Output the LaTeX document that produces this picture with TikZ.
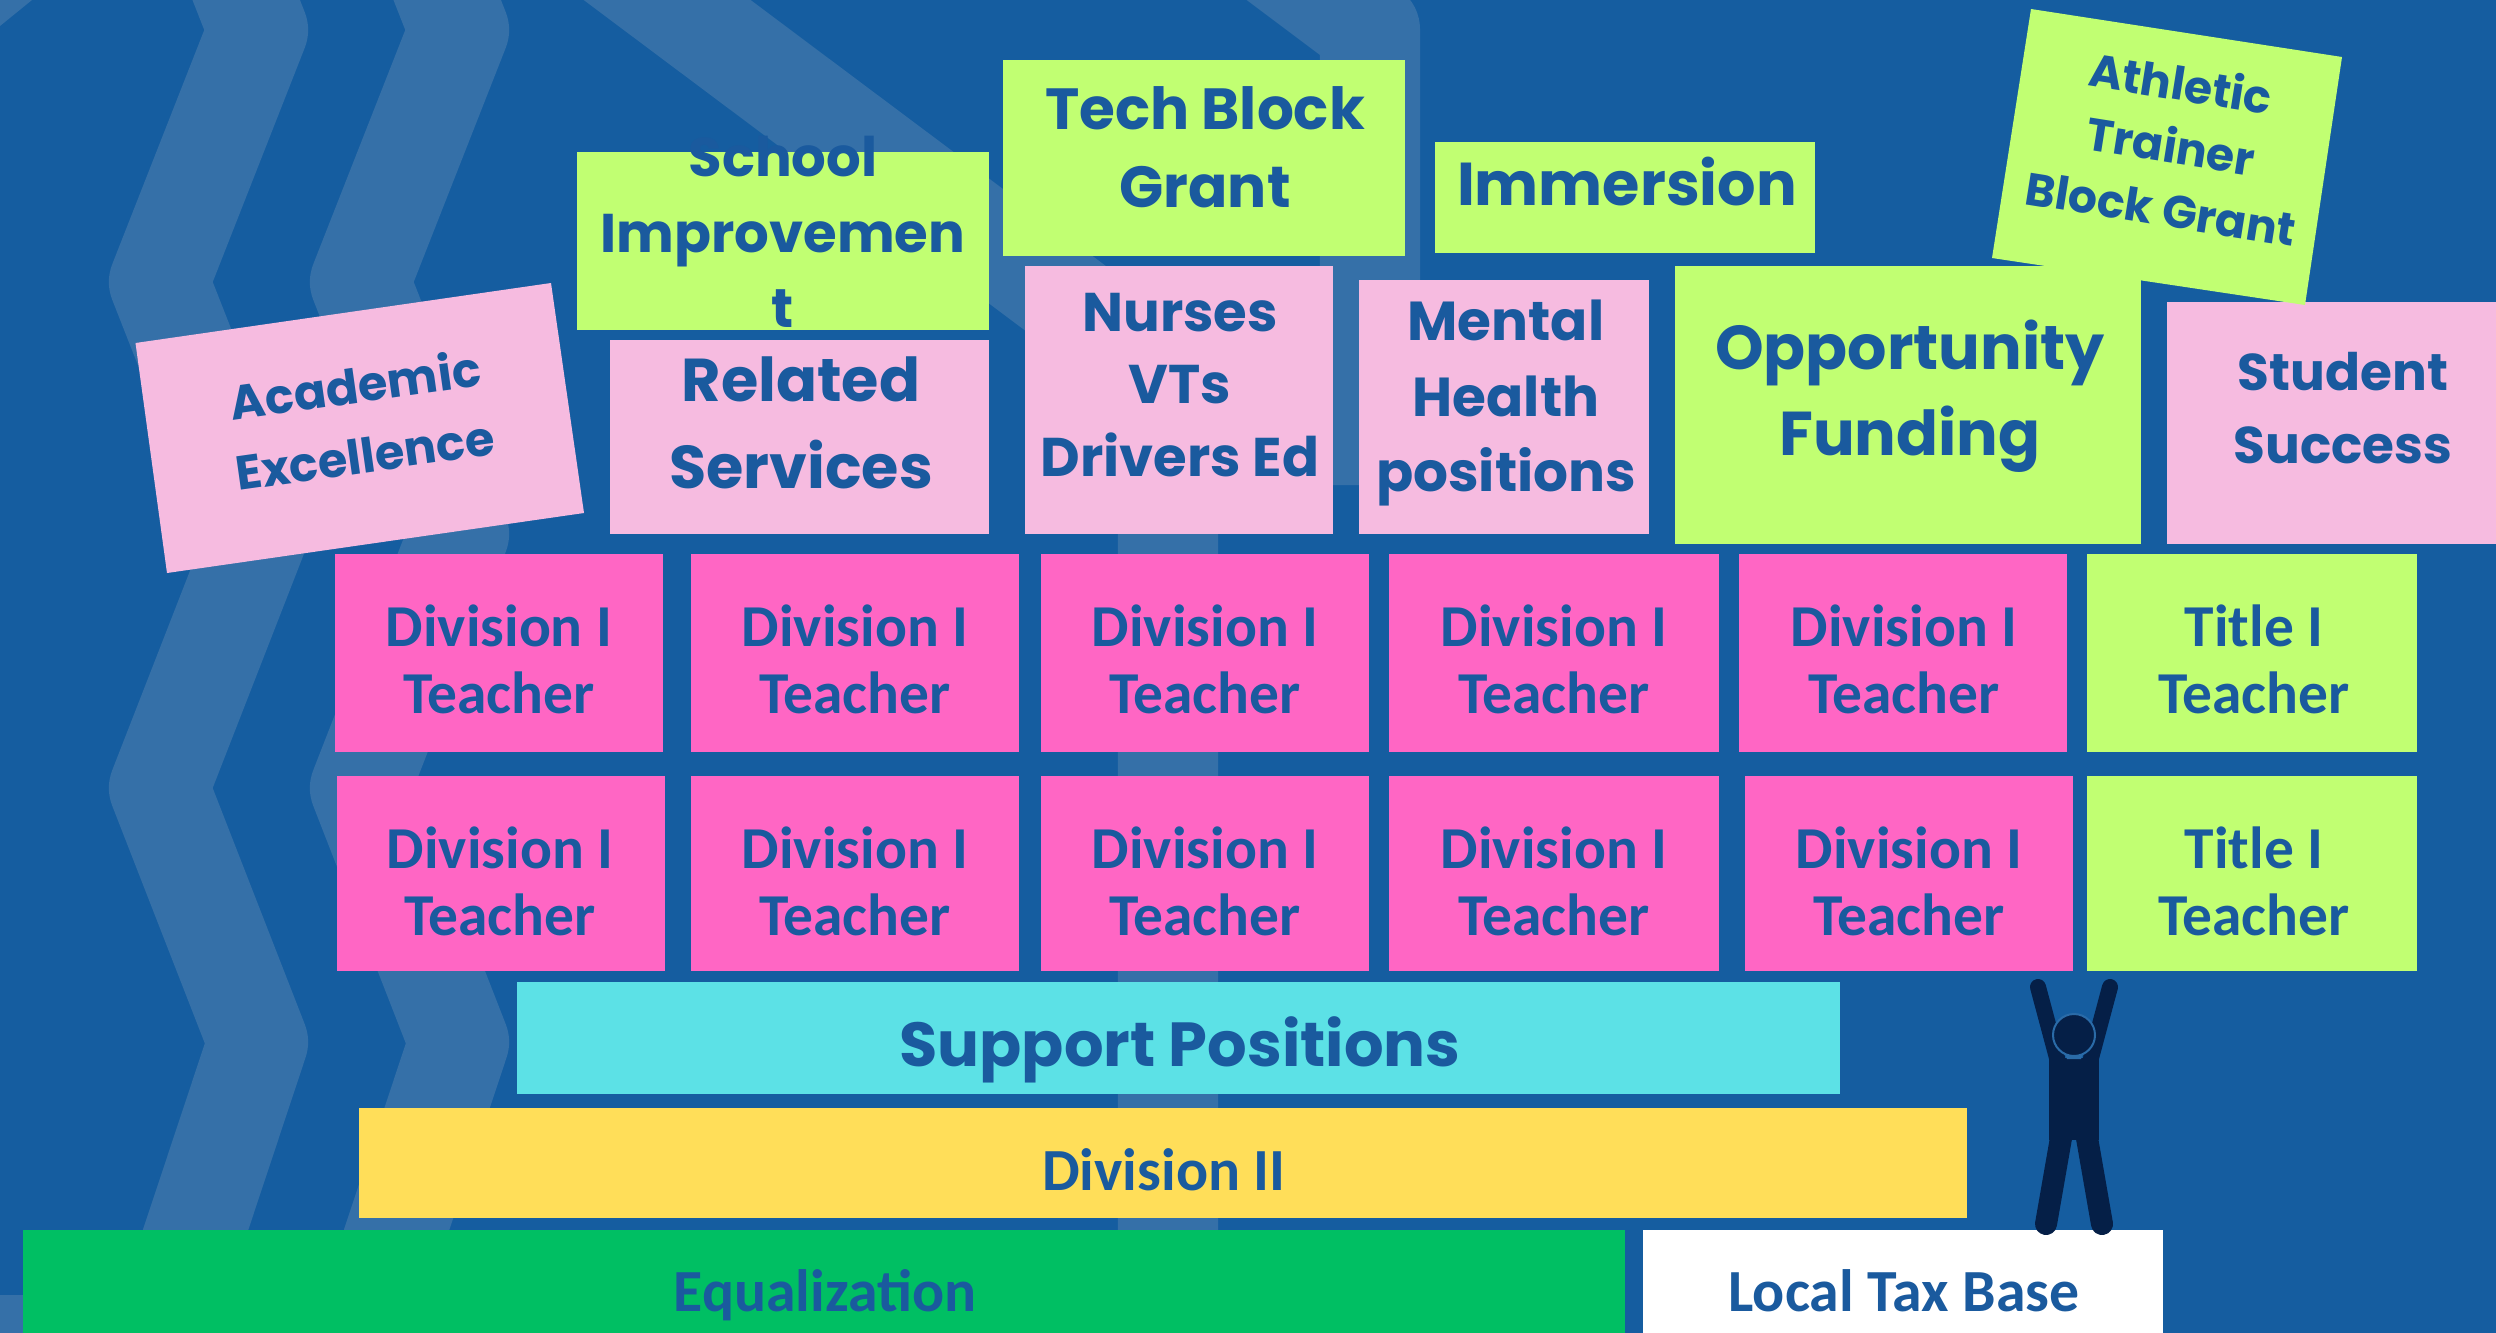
\documentclass[tikz,border=0pt]{standalone}
\usepackage{fontspec}
\newfontfamily\montfont{Poppins}
\newfontfamily\calfont{Carlito}
\definecolor{bgblue}{HTML}{155DA0}
\definecolor{bandblue}{HTML}{3570A8}
\definecolor{inkblue}{HTML}{1A5A9E}
\definecolor{palepink}{HTML}{F6BBE0}
\definecolor{hotpink}{HTML}{FF66C4}
\definecolor{lime}{HTML}{C1FF72}
\definecolor{aqua}{HTML}{5CE1E6}
\definecolor{sun}{HTML}{FFDE59}
\definecolor{leaf}{HTML}{00BF63}
\definecolor{navy}{HTML}{051F47}
\definecolor{halo}{HTML}{2A6BA8}
\tikzset{
  mont/.style 2 args={text=inkblue,align=center,inner sep=0pt,font=\montfont\bfseries\fontsize{#1}{#2}\selectfont},
  cal/.style 2 args={text=inkblue,align=center,inner sep=0pt,font=\calfont\bfseries\fontsize{#1}{#2}\selectfont},
  teacher/.style={cal={16.9}{19}},
  band/.style={draw=bandblue,line width=1cm,line join=round}
}
\begin{document}
\begin{tikzpicture}[x=0.01cm,y=-0.01cm]
\useasboundingbox (0,0) rectangle (2496,1333);
\clip (0,0) rectangle (2496,1333);
\fill[bgblue] (0,0) rectangle (2496,1333);

\draw[band] (159,-222) -- (258,30) -- (159,282) -- (258,534) -- (159,788) -- (258,1042) -- (159,1340);
\draw[band] (360,-222) -- (459,30) -- (360,282) -- (459,534) -- (360,788) -- (459,1042) -- (360,1340);
\draw[band] (587,-60) -- (1168,375) -- (1168,1340);
\draw[band] (1170,-120) -- (1370,30) -- (1370,485);
\fill[bandblue] (0,0) -- (32,0) -- (0,26) -- cycle;
\fill[bandblue] (0,1295) rectangle (23,1333);

\fill[palepink] (135.5,343) -- (551,283) -- (584,513) -- (167,573) -- cycle;
\node[mont={13.6}{19},rotate=8,text width=3cm] (academic) at (360,419) {Academic\\[0.95pt]Excellence};

\fill[lime] (577,152) rectangle (989,330);
\node[mont={15.5}{21.5}] (school) at (783,232) {School\\Improvemen\\t};

\fill[lime] (1003,60) rectangle (1405,256);
\node[mont={16.5}{22.2}] (tech) at (1205,147) {Tech Block\\Grant};

\fill[lime] (1435,142) rectangle (1815,253);
\node[mont={17.2}{22}] (immersion) at (1627,182) {Immersion};

\fill[palepink] (610,340) rectangle (989,534);
\node[mont={17.2}{24.7}] (related) at (801,423) {Related\\Services};

\fill[palepink] (1025,266) rectangle (1333,534);
\node[mont={15.5}{20.6}] (nurses) at (1180,385) {Nurses\\VTs\\Drivers Ed};

\fill[palepink] (1359,280) rectangle (1649,534);
\node[mont={15.6}{21.6}] (mental) at (1506,403) {Mental\\Health\\positions};

\fill[lime] (1675,266) rectangle (2141,544);
\node[mont={17.6}{24.5}] (opportunity) at (1910,396) {Opportunity\\Funding};

\fill[palepink] (2167,302) rectangle (2496,544);
\node[mont={14.7}{20.8}] (student) at (2343,408) {Student\\Success};

\fill[lime] (2031,9) -- (2342,57) -- (2305,305) -- (1992,258) -- cycle;
\node[mont={13}{18},rotate=-9] (athletic) at (2171,145) {Athletic\\Trainer\\Block Grant};

\fill[hotpink] (335,554) rectangle (663,752);
\node[teacher] (div1a) at (499,659) {Division I\\Teacher};
\fill[hotpink] (691,554) rectangle (1019,752);
\node[teacher] (div1b) at (855,659) {Division I\\Teacher};
\fill[hotpink] (1041,554) rectangle (1369,752);
\node[teacher] (div1c) at (1205,659) {Division I\\Teacher};
\fill[hotpink] (1389,554) rectangle (1719,752);
\node[teacher] (div1d) at (1554,659) {Division I\\Teacher};
\fill[hotpink] (1739,554) rectangle (2067,752);
\node[teacher] (div1e) at (1904,659) {Division I\\Teacher};
\fill[lime] (2087,554) rectangle (2417,752);
\node[teacher] (title1) at (2254,659) {Title I\\Teacher};

\fill[hotpink] (337,776) rectangle (665,971);
\node[teacher] (div2a) at (500,881) {Division I\\Teacher};
\fill[hotpink] (691,776) rectangle (1019,971);
\node[teacher] (div2b) at (855,881) {Division I\\Teacher};
\fill[hotpink] (1041,776) rectangle (1369,971);
\node[teacher] (div2c) at (1205,881) {Division I\\Teacher};
\fill[hotpink] (1389,776) rectangle (1719,971);
\node[teacher] (div2d) at (1554,881) {Division I\\Teacher};
\fill[hotpink] (1745,776) rectangle (2073,971);
\node[teacher] (div2e) at (1909,881) {Division I\\Teacher};
\fill[lime] (2087,776) rectangle (2417,971);
\node[teacher] (title2) at (2254,881) {Title I\\Teacher};

\fill[aqua] (517,982) rectangle (1840,1094);
\node[mont={17.7}{22}] (support) at (1180,1050) {Support Positions};

\fill[sun] (359,1108) rectangle (1967,1218);
\node[cal={17}{19}] (division2) at (1164,1170) {Division II};

\fill[leaf] (23,1230) rectangle (1625,1333);
\node[cal={17}{19}] (equalization) at (825,1295) {Equalization};

\fill[white] (1643,1230) rectangle (2163,1333);
\node[cal={17}{19}] (localtax) at (1904,1291) {Local Tax Base};

\draw[navy,line width=0.16cm,line cap=round] (2038,987) -- (2057,1058);
\draw[navy,line width=0.16cm,line cap=round] (2110,987) -- (2091,1058);
\fill[navy] (2049,1058) rectangle (2099,1140);
\draw[navy,line width=0.22cm,line cap=round] (2046,1224) -- (2061,1138);
\draw[navy,line width=0.22cm,line cap=round] (2102,1224) -- (2087,1138);
\fill[halo] (2065,1054) -- (2083,1054) -- (2081,1059) -- (2067,1059) -- cycle;
\filldraw[fill=navy,draw=halo,line width=0.02cm] (2074,1035) circle (21);
\end{tikzpicture}
\end{document}
